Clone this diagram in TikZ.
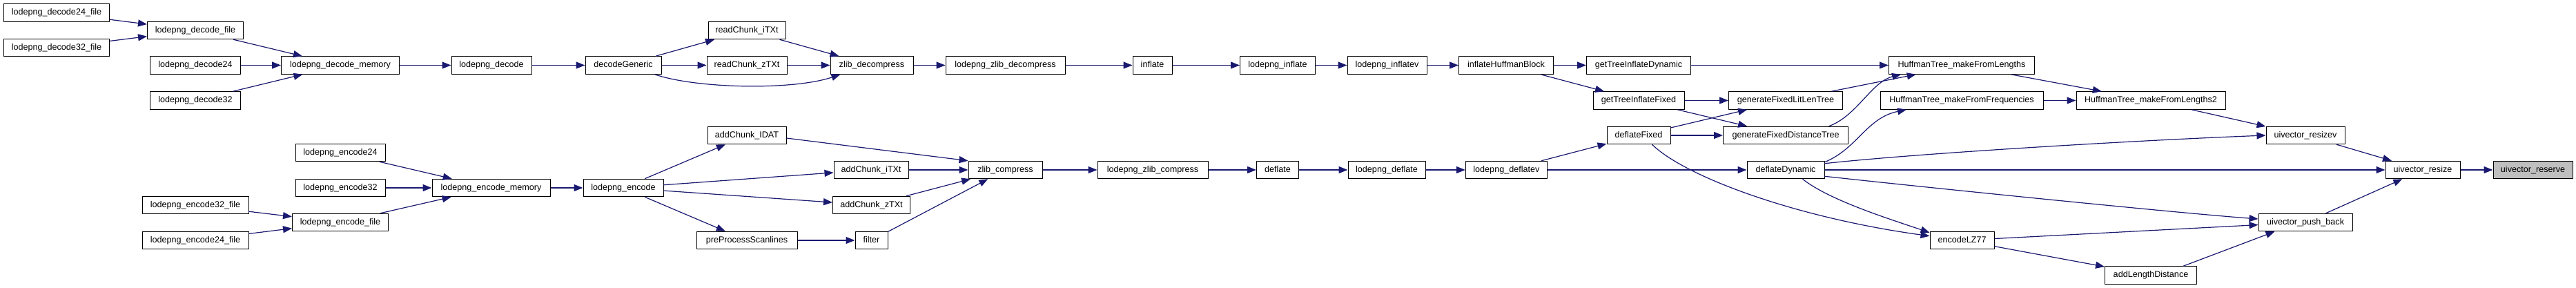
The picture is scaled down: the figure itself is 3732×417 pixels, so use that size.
\documentclass[tikz,border=0pt]{standalone}
\usepackage{fontspec}
\setmainfont{Liberation Sans}
\usetikzlibrary{arrows.meta}
\definecolor{edgeblue}{HTML}{191970}
\definecolor{markgray}{HTML}{BFBFBF}
\tikzset{
  fn/.style={draw=black, line width=1pt, fill=white, minimum height=25.5pt,
    inner sep=0pt, text height=9pt, text depth=2.7pt,
    font=\fontsize{12.6}{15}\selectfont},
  call/.style={draw=edgeblue, line width=1.2pt, -{Triangle[length=13pt,width=10pt]}},
}
\begin{document}
\begin{tikzpicture}[x=1pt,y=-1pt]
\useasboundingbox (0,0) rectangle (3732,417);
% decode side
\node[fn, minimum width=153pt] (dec24f) at (82,18.5) {lodepng\_decode24\_file};
\node[fn, minimum width=153pt] (dec32f) at (82,69) {lodepng\_decode32\_file};
\node[fn, minimum width=139pt] (decfile) at (283,44) {lodepng\_decode\_file};
\node[fn, minimum width=131pt] (dec24) at (283,94.5) {lodepng\_decode24};
\node[fn, minimum width=131pt] (dec32) at (283,145.5) {lodepng\_decode32};
\node[fn, minimum width=171pt] (decmem) at (493,94.5) {lodepng\_decode\_memory};
\node[fn, minimum width=116pt] (decode) at (712,94.5) {lodepng\_decode};
\node[fn, minimum width=110pt] (decgen) at (903,94.5) {decodeGeneric};
\node[fn, minimum width=112pt] (rcitxt) at (1082,44) {readChunk\_iTXt};
\node[fn, minimum width=116pt] (rcztxt) at (1082,94.5) {readChunk\_zTXt};
\node[fn, minimum width=120pt] (zdec) at (1263,94.5) {zlib\_decompress};
\node[fn, minimum width=173pt] (lzdec) at (1456.5,94.5) {lodepng\_zlib\_decompress};
\node[fn, minimum width=57pt] (inflate) at (1669.5,94.5) {inflate};
\node[fn, minimum width=109pt] (linfl) at (1851,94.5) {lodepng\_inflate};
\node[fn, minimum width=115pt] (linflv) at (2009.5,94.5) {lodepng\_inflatev};
\node[fn, minimum width=137pt] (ihb) at (2182,94.5) {inflateHuffmanBlock};
\node[fn, minimum width=151pt] (gtid) at (2374,94.5) {getTreeInflateDynamic};
\node[fn, minimum width=132pt] (gtif) at (2374,145.5) {getTreeInflateFixed};
\node[fn, minimum width=165pt] (gfllt) at (2587,145.5) {generateFixedLitLenTree};
\node[fn, minimum width=92pt] (defix) at (2374,196) {deflateFixed};
\node[fn, minimum width=181pt] (gfdt) at (2587,196) {generateFixedDistanceTree};
\node[fn, minimum width=211pt] (htlen) at (2842,94.5) {HuffmanTree\_makeFromLengths};
\node[fn, minimum width=236pt] (htfreq) at (2842,145.5) {HuffmanTree\_makeFromFrequencies};
\node[fn, minimum width=216pt] (htlen2) at (3116,145.5) {HuffmanTree\_makeFromLengths2};
\node[fn, minimum width=114pt] (resizev) at (3340,196) {uivector\_resizev};
\node[fn, minimum width=108pt] (resize) at (3510,246) {uivector\_resize};
\node[fn, minimum width=115pt, fill=markgray] (reserve) at (3669.5,246) {uivector\_reserve};
% encode side
\node[fn, minimum width=130pt] (enc24) at (493,221) {lodepng\_encode24};
\node[fn, minimum width=130pt] (enc32) at (493,272) {lodepng\_encode32};
\node[fn, minimum width=154pt] (enc32f) at (283,297) {lodepng\_encode32\_file};
\node[fn, minimum width=139pt] (encfile) at (493,322) {lodepng\_encode\_file};
\node[fn, minimum width=154pt] (enc24f) at (283,348) {lodepng\_encode24\_file};
\node[fn, minimum width=171pt] (encmem) at (711.5,272) {lodepng\_encode\_memory};
\node[fn, minimum width=116pt] (lenc) at (903,272) {lodepng\_encode};
\node[fn, minimum width=114pt] (acidat) at (1082,196) {addChunk\_IDAT};
\node[fn, minimum width=108pt] (acitxt) at (1262,246) {addChunk\_iTXt};
\node[fn, minimum width=112pt] (acztxt) at (1262.5,297) {addChunk\_zTXt};
\node[fn, minimum width=146pt] (pps) at (1082,348) {preProcessScanlines};
\node[fn, minimum width=47pt] (filter) at (1262.5,348) {filter};
\node[fn, minimum width=107pt] (zcomp) at (1456.5,246) {zlib\_compress};
\node[fn, minimum width=160pt] (lzcomp) at (1670,246) {lodepng\_zlib\_compress};
\node[fn, minimum width=61pt] (deflate) at (1851,246) {deflate};
\node[fn, minimum width=112pt] (ldefl) at (2009,246) {lodepng\_deflate};
\node[fn, minimum width=118pt] (ldeflv) at (2182.4,246) {lodepng\_deflatev};
\node[fn, minimum width=112pt] (dedyn) at (2587,246) {deflateDynamic};
\node[fn, minimum width=93pt] (lz77) at (2842.5,348) {encodeLZ77};
\node[fn, minimum width=136pt] (pushb) at (3340,322) {uivector\_push\_back};
\node[fn, minimum width=133pt] (ald) at (3116,398.5) {addLengthDistance};
% edges: decode
\draw[call] (dec24f) -- (decfile);
\draw[call] (dec32f) -- (decfile);
\draw[call] (decfile) -- (decmem);
\draw[call] (dec24) -- (decmem);
\draw[call] (dec32) -- (decmem);
\draw[call] (decmem) -- (decode);
\draw[call] (decode) -- (decgen);
\draw[call] (decgen) -- (rcitxt);
\draw[call] (decgen) -- (rcztxt);
\draw[call] ([xshift=-10pt]decgen.south east) .. controls +(62,21) and +(-68,23) .. ([xshift=15pt]zdec.south west);
\draw[call] (rcitxt) -- (zdec);
\draw[call] (rcztxt) -- (zdec);
\draw[call] (zdec) -- (lzdec);
\draw[call] (lzdec) -- (inflate);
\draw[call] (inflate) -- (linfl);
\draw[call] (linfl) -- (linflv);
\draw[call] (linflv) -- (ihb);
\draw[call] (ihb) -- (gtid);
\draw[call] (ihb) -- (gtif);
\draw[call] (gtid) -- (htlen);
\draw[call] (gtif) -- (gfllt);
\draw[call] (gtif) -- (gfdt);
\draw[call] (gfllt) -- (htlen);
\draw[call] ([xshift=-28.5pt]gfdt.north east) .. controls +(41,-15) and +(-43,11) .. ([xshift=18pt]htlen.south west);
\draw[call] (htlen) -- (htlen2);
\draw[call] (htfreq) -- (htlen2);
\draw[call] (htlen2) -- (resizev);
\draw[call] (resizev) -- (resize);
\draw[call] (resize) -- (reserve);
% edges: encode
\draw[call] (enc24) -- (encmem);
\draw[call] (enc32) -- (encmem);
\draw[call] (encfile) -- (encmem);
\draw[call] (enc32f) -- (encfile);
\draw[call] (enc24f) -- (encfile);
\draw[call] (encmem) -- (lenc);
\draw[call] (lenc) -- (acidat);
\draw[call] (lenc) -- (acitxt);
\draw[call] (lenc) -- (acztxt);
\draw[call] (lenc) -- (pps);
\draw[call] (pps) -- (filter);
\draw[call] ([yshift=-4pt]acidat.east) -- (zcomp.north west);
\draw[call] (acitxt) -- (zcomp);
\draw[call] (acztxt) -- (zcomp);
\draw[call] (filter) -- (zcomp);
\draw[call] (zcomp) -- (lzcomp);
\draw[call] (lzcomp) -- (deflate);
\draw[call] (deflate) -- (ldefl);
\draw[call] (ldefl) -- (ldeflv);
\draw[call] (ldeflv) -- (defix);
\draw[call] (ldeflv) -- (dedyn);
\draw[call] (defix) -- (gfllt);
\draw[call] (defix) -- (gfdt);
\draw[call] ([xshift=-27pt]defix.south east) .. controls +(47,46) and +(-196,-27) .. ([yshift=-7pt]lz77.north west);
\draw[call] ([yshift=-2pt]dedyn.north east) .. controls +(48,-20) and +(-58,12) .. ([xshift=38.5pt]htfreq.south west);
\draw[call] ([yshift=-4pt]dedyn.north east) .. controls +(137,-15) and +(-182.5,7) .. (resizev.west);
\draw[call] (dedyn) -- (resize);
\draw[call] ([yshift=4pt]dedyn.south east) .. controls +(117,13) and +(-122,-9) .. ([yshift=5pt]pushb.west);
\draw[call] ([xshift=-32pt]dedyn.south east) .. controls +(39,31) and +(-56,-19) .. ([yshift=-2pt]lz77.north west);
\draw[call] (lz77) -- (pushb);
\draw[call] (lz77) -- (ald);
\draw[call] ([xshift=-20pt]ald.north east) -- ([xshift=24pt]pushb.south west);
\draw[call] (pushb) -- (resize);
\end{tikzpicture}
\end{document}
